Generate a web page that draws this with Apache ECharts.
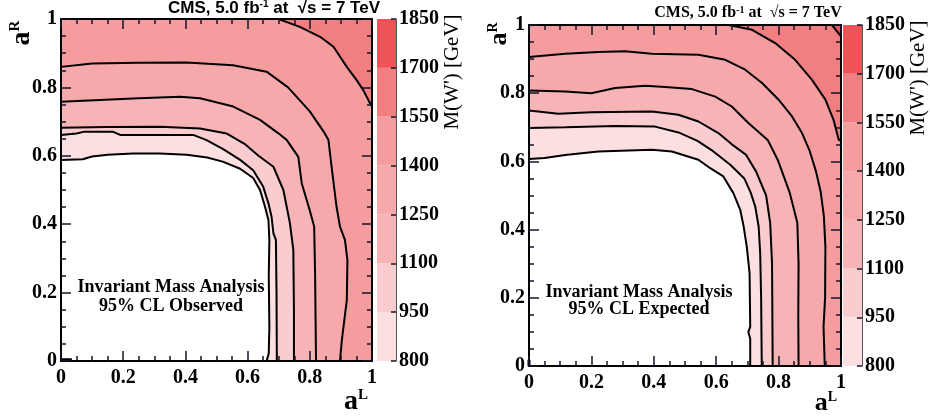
<!DOCTYPE html>
<html><head><meta charset="utf-8">
<script src="https://cdn.jsdelivr.net/npm/echarts@6/dist/echarts.min.js"></script>
<style>html,body{margin:0;padding:0;background:#fff}#c{width:930px;height:419px}</style>
</head><body><div id="c"></div>
<script>
// ---------- data ----------
const levels = [800, 950, 1100, 1250, 1400, 1550, 1700];
const cbTicks = [800, 950, 1100, 1250, 1400, 1550, 1700, 1850];
const bandColors = ['#fcdfe0', '#f9cdcf', '#f7b4b7', '#f6a8ab', '#f59c9f', '#f17f82', '#ee5358'];

// Observed (left panel) contour lines, [aL, aR]
const obs800 = [[0,0.588],[0.07,0.59],[0.1,0.598],[0.15,0.603],[0.232,0.607],[0.318,0.607],[0.404,0.603],[0.47,0.595],[0.52,0.583],[0.576,0.562],[0.618,0.535],[0.64,0.5],[0.656,0.451],[0.667,0.412],[0.67,0.354],[0.668,0.25],[0.67,0.1],[0.668,0.022],[0.661,0]];
const obs950 = [[0,0.661],[0.05,0.665],[0.072,0.67],[0.168,0.67],[0.19,0.661],[0.425,0.661],[0.468,0.646],[0.52,0.62],[0.576,0.588],[0.618,0.558],[0.65,0.51],[0.667,0.461],[0.677,0.422],[0.683,0.373],[0.691,0.354],[0.693,0.2],[0.694,0]];
const obs1100 = [[0,0.682],[0.15,0.684],[0.318,0.685],[0.447,0.68],[0.533,0.665],[0.59,0.635],[0.635,0.6],[0.683,0.568],[0.715,0.5],[0.736,0.403],[0.747,0.325],[0.749,0.15],[0.749,0]];
const obs1250 = [[0,0.758],[0.125,0.763],[0.25,0.768],[0.383,0.773],[0.447,0.768],[0.554,0.744],[0.64,0.705],[0.7,0.665],[0.726,0.646],[0.763,0.597],[0.774,0.52],[0.8,0.44],[0.814,0.393],[0.817,0.256],[0.82,0]];
const obs1400 = [[0,0.86],[0.1,0.87],[0.25,0.872],[0.404,0.873],[0.553,0.865],[0.661,0.846],[0.73,0.8],[0.8,0.73],[0.845,0.67],[0.86,0.646],[0.87,0.568],[0.886,0.451],[0.897,0.393],[0.913,0.354],[0.921,0.295],[0.919,0.178],[0.903,0.061],[0.897,0]];
const obs1550 = [[0.699,1],[0.768,0.977],[0.833,0.948],[0.876,0.919],[0.919,0.86],[0.95,0.822],[0.972,0.792],[0.994,0.753],[1,0.745]];
const obsStub = [[0,0.004],[0.035,0.004]];

// Expected (right panel) contour lines, [aL, aR]
const exp800 = [[0,0.607],[0.05,0.61],[0.116,0.619],[0.222,0.629],[0.394,0.634],[0.458,0.629],[0.543,0.605],[0.581,0.58],[0.623,0.556],[0.655,0.507],[0.677,0.458],[0.688,0.409],[0.698,0.35],[0.707,0.272],[0.709,0.115],[0.703,0.1],[0.709,0.08],[0.709,0]];
const exp950 = [[0,0.698],[0.116,0.7],[0.276,0.704],[0.404,0.702],[0.479,0.685],[0.54,0.66],[0.59,0.63],[0.645,0.59],[0.69,0.55],[0.71,0.51],[0.725,0.468],[0.736,0.409],[0.741,0.33],[0.744,0.2],[0.746,0]];
const exp1100 = [[0,0.749],[0.094,0.74],[0.2,0.744],[0.394,0.746],[0.479,0.737],[0.543,0.717],[0.607,0.683],[0.65,0.65],[0.695,0.62],[0.728,0.57],[0.76,0.5],[0.773,0.42],[0.779,0.3],[0.781,0]];
const exp1250 = [[0,0.808],[0.116,0.805],[0.2,0.8],[0.276,0.815],[0.372,0.822],[0.436,0.818],[0.522,0.812],[0.597,0.79],[0.65,0.761],[0.704,0.712],[0.765,0.663],[0.797,0.605],[0.835,0.51],[0.86,0.42],[0.864,0.3],[0.863,0.15],[0.864,0]];
const exp1400 = [[0,0.906],[0.116,0.916],[0.222,0.921],[0.308,0.923],[0.394,0.916],[0.543,0.913],[0.629,0.898],[0.693,0.869],[0.747,0.83],[0.8,0.781],[0.843,0.732],[0.875,0.683],[0.9,0.63],[0.92,0.57],[0.935,0.51],[0.945,0.44],[0.95,0.35],[0.949,0.2],[0.944,0.115],[0.948,0]];
const exp1550 = [[0.64,1],[0.715,0.986],[0.789,0.947],[0.853,0.898],[0.907,0.839],[0.95,0.781],[0.976,0.722],[0.993,0.663],[1,0.66]];
const exp1700 = [[0.971,1],[1,0.967]];
const expStub = [[0,0],[0,0.018]];

const obsContours = [obs800, obs950, obs1100, obs1250, obs1400, obs1550];
const expContours = [exp800, exp950, exp1100, exp1250, exp1400, exp1550, exp1700];

// ---------- layout ----------
const SERIF = 'Liberation Serif';
const SANS = 'Liberation Sans';
const TICK = '#141428';
const panels = [
  {plot: {left: 61, top: 19, width: 311, height: 342}, cb: {left: 377, top: 19, width: 19, height: 342}, contours: obsContours, stub: obsStub},
  {plot: {left: 529, top: 25, width: 312, height: 341}, cb: {left: 843, top: 25, width: 19, height: 341}, contours: expContours, stub: expStub}
];

const labelStyle = () => ({fontFamily: SERIF, fontWeight: 'bold', fontSize: 20, color: '#000'});
const axLine = () => ({show: true, onZero: false, lineStyle: {color: '#000', width: 2}});
const majTick = () => ({show: true, inside: true, length: 10, lineStyle: {color: TICK, width: 1.5}});
const minTick = () => ({show: true, splitNumber: 4, length: 5, lineStyle: {color: TICK, width: 1.5}});

const grid = [], xAxis = [], yAxis = [], series = [];
panels.forEach((p, pi) => {
  const g0 = grid.length;
  grid.push(Object.assign({containLabel: false}, p.plot));
  grid.push(Object.assign({containLabel: false}, p.cb));
  const xi = xAxis.length, yi = yAxis.length;
  xAxis.push({gridIndex: g0, type: 'value', min: 0, max: 1, interval: 0.2, position: 'bottom', z: 20,
    axisLine: axLine(), axisTick: majTick(), minorTick: minTick(), splitLine: {show: false},
    axisLabel: Object.assign({margin: 7, formatter: v => String(+v.toFixed(1))}, labelStyle())});
  xAxis.push({gridIndex: g0, type: 'value', min: 0, max: 1, interval: 0.2, position: 'top', z: 20,
    axisLine: axLine(), axisTick: majTick(), minorTick: minTick(), splitLine: {show: false}, axisLabel: {show: false}});
  xAxis.push({gridIndex: g0 + 1, type: 'value', min: 0, max: 1, show: false});
  yAxis.push({gridIndex: g0, type: 'value', min: 0, max: 1, interval: 0.2, position: 'left', z: 20,
    axisLine: axLine(), axisTick: majTick(), minorTick: minTick(), splitLine: {show: false},
    axisLabel: Object.assign({margin: 4, formatter: v => String(+v.toFixed(1))}, labelStyle())});
  yAxis.push({gridIndex: g0, type: 'value', min: 0, max: 1, interval: 0.2, position: 'right', z: 20,
    axisLine: axLine(), axisTick: majTick(), minorTick: minTick(), splitLine: {show: false}, axisLabel: {show: false}});
  yAxis.push({gridIndex: g0 + 1, type: 'value', min: cbTicks[0], max: cbTicks[cbTicks.length - 1], position: 'right', z: 20,
    axisLine: {show: true, onZero: false, lineStyle: {color: '#555', width: 1}},
    axisTick: {show: true, inside: true, length: 5, customValues: cbTicks, lineStyle: {color: TICK, width: 1.5}},
    splitLine: {show: false},
    axisLabel: Object.assign({margin: 3, customValues: cbTicks, formatter: v => String(v)}, labelStyle())});

  const contours = p.contours;
  series.push({
    type: 'custom', xAxisIndex: xi, yAxisIndex: yi, z: -3, silent: true, animation: false,
    data: contours.map((c, i) => [0, 0]),
    renderItem: (params, api) => {
      const i = params.dataIndex;
      const c = contours[i];
      const pts = c.map(pt => api.coord(pt));
      const start = c[0], end = c[c.length - 1];
      if (end[1] === 0) pts.push(api.coord([1, 0]));
      pts.push(api.coord([1, 1]));
      if (start[0] === 0) pts.push(api.coord([0, 1]));
      return {type: 'polygon', shape: {points: pts}, style: {fill: bandColors[i], stroke: null}};
    }
  });
  contours.forEach((c, i) => {
    series.push({type: 'line', xAxisIndex: xi, yAxisIndex: yi, data: c, showSymbol: false, symbol: 'none',
      z: -1, silent: true, animation: false, lineStyle: {color: '#000', width: 2}});
  });
  if (p.stub) {
    series.push({type: 'line', xAxisIndex: xi, yAxisIndex: yi, data: p.stub, showSymbol: false, symbol: 'none',
      z: -1, silent: true, animation: false, lineStyle: {color: '#000', width: 3}});
  }
  series.push({
    type: 'custom', xAxisIndex: xi + 2, yAxisIndex: yi + 2, z: -3, silent: true, animation: false,
    data: levels.map((l, i) => [0, l]),
    renderItem: (params, api) => {
      const i = params.dataIndex;
      const a = api.coord([0, cbTicks[i]]);
      const b = api.coord([1, cbTicks[i + 1]]);
      return {type: 'rect', shape: {x: a[0], y: b[1], width: b[0] - a[0], height: a[1] - b[1]},
        style: {fill: bandColors[i], stroke: null}};
    }
  });
});

function txt(x, y, text, opts) {
  return Object.assign({type: 'text', x, y, silent: true, z: 30,
    style: Object.assign({text, fill: '#000', align: 'center', verticalAlign: 'middle'}, opts.style)},
    opts.rotation ? {rotation: opts.rotation} : {});
}
const supSans = {fontSize: 10, fontFamily: SANS, fontWeight: 'bold', verticalAlign: 'top', fill: '#000'};
const supSerif = {fontSize: 10, fontFamily: SERIF, fontWeight: 'bold', verticalAlign: 'top', fill: '#000'};
const graphic = [
  txt(274, 8, 'CMS, 5.0 fb{sup|-1} at  √s = 7 TeV', {style: {fontFamily: SANS, fontWeight: 'bold', fontSize: 17, rich: {sup: supSans}}}),
  txt(748, 13, 'CMS, 5.0 fb{sup|-1} at  √s = 7 TeV', {style: {fontFamily: SERIF, fontWeight: 'bold', fontSize: 16, rich: {sup: supSerif}}}),
  txt(22, 33, 'a{s|R}', {rotation: Math.PI / 2, style: {fontFamily: SERIF, fontWeight: 'bold', fontSize: 28, rich: {s: {fontSize: 15, fontFamily: SERIF, fontWeight: 'bold', verticalAlign: 'top'}}}}),
  txt(499, 34, 'a{s|R}', {rotation: Math.PI / 2, style: {fontFamily: SERIF, fontWeight: 'bold', fontSize: 26, rich: {s: {fontSize: 14, fontFamily: SERIF, fontWeight: 'bold', verticalAlign: 'top'}}}}),
  txt(356, 402, 'a{s|L}', {style: {fontFamily: SERIF, fontWeight: 'bold', fontSize: 28, rich: {s: {fontSize: 15, fontFamily: SERIF, fontWeight: 'bold', verticalAlign: 'top'}}}}),
  txt(826, 403, 'a{s|L}', {style: {fontFamily: SERIF, fontWeight: 'bold', fontSize: 26, rich: {s: {fontSize: 14, fontFamily: SERIF, fontWeight: 'bold', verticalAlign: 'top'}}}}),
  txt(452, 72, "M(W') [GeV]", {rotation: Math.PI / 2, style: {fontFamily: SERIF, fontSize: 21}}),
  txt(918, 78, "M(W') [GeV]", {rotation: Math.PI / 2, style: {fontFamily: SERIF, fontSize: 21}}),
  txt(171, 287, 'Invariant Mass Analysis', {style: {fontFamily: SERIF, fontWeight: 'bold', fontSize: 18}}),
  txt(171, 306, '95% CL Observed', {style: {fontFamily: SERIF, fontWeight: 'bold', fontSize: 18}}),
  txt(639, 292, 'Invariant Mass Analysis', {style: {fontFamily: SERIF, fontWeight: 'bold', fontSize: 18}}),
  txt(639, 309, '95% CL Expected', {style: {fontFamily: SERIF, fontWeight: 'bold', fontSize: 18}})
];

const chart = echarts.init(document.getElementById('c'), null, {renderer: 'canvas'});
chart.setOption({animation: false, backgroundColor: '#fff', grid, xAxis, yAxis, series, graphic});
</script>
</body></html>
